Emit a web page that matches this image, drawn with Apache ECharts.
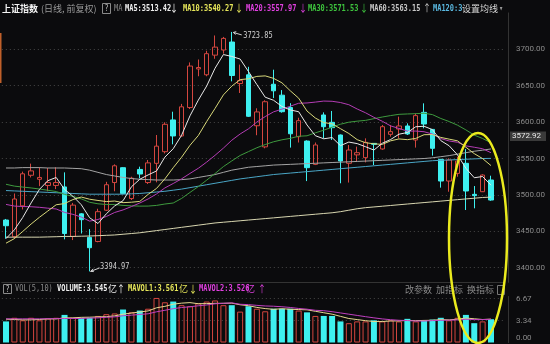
<!DOCTYPE html>
<html><head><meta charset="utf-8">
<script src="https://cdn.jsdelivr.net/npm/echarts@6/dist/echarts.min.js"></script>
<style>html,body{margin:0;padding:0;background:#0b0b0d}#c{width:550px;height:344px}</style>
</head><body><div id="c"></div>
<script>
// ---------- data ----------
const categories = Array.from({length: 59}, (_, i) => 'D' + (i + 1));
const opens  = [3465.5,3442.6,3485,3527,3521.5,3513,3513,3511,3443,3474,3441.7,3436,3479,3517,3537.4,3495,3535,3517,3543.4,3559.4,3603,3581,3620,3673,3665,3692,3699,3710,3653,3665,3595,3566,3652,3637,3620,3580,3574,3542,3609.8,3599.7,3582.3,3543.4,3555,3551.2,3570.8,3563.1,3583.2,3590.5,3594.7,3575.4,3613.4,3590,3548.9,3519.1,3529.6,3543.4,3500.8,3504.4,3520.5];
const closes = [3457.7,3494.4,3529,3533,3524,3517,3517,3447,3486,3466,3427.5,3477,3514,3540,3502,3523,3528.7,3544,3567,3597,3581,3621,3677,3675,3694,3703,3715,3664,3657,3608,3614,3628,3643,3614.3,3584,3602,3537.4,3568.6,3593.7,3592.4,3546.6,3561.7,3558,3572.2,3569.5,3593.7,3586.9,3594.7,3583.7,3608.9,3597.4,3564,3519.1,3548,3546.6,3505.4,3499,3527.3,3493];
const lows   = [3440,3440,3480,3524,3512,3505,3508,3439,3438,3447,3394.97,3435,3478,3505,3501,3493,3522.8,3515,3517.3,3557,3569.5,3580,3618,3663,3663,3687,3694,3656,3640,3607,3582,3564,3633,3613,3565,3572,3519,3541,3577.7,3575.4,3516,3517,3545.6,3544.7,3541,3562,3580,3577.7,3582.3,3565,3591.5,3554,3510,3504.4,3525,3479.3,3481.6,3504,3492];
const highs  = [3467,3502,3532,3543,3538,3537,3538,3531,3489,3475,3453,3481,3518,3542,3538,3525,3538.8,3548,3582.3,3599.7,3614.3,3625,3682,3686,3698,3719,3717,3723.85,3679,3676,3619,3630,3672,3644,3626,3606,3575,3572,3613.4,3615.3,3583,3568.6,3566.3,3577.7,3571,3596,3596,3607.5,3598.3,3612,3625.8,3590,3549,3550.3,3552.5,3563,3512.2,3528.3,3526.4];

const ma5   = [3440,3452,3469,3489,3507.6,3519.5,3524,3507.6,3498.2,3486.6,3468.7,3460.7,3474.1,3484.9,3492.1,3511.2,3521.5,3527.5,3532.9,3551.9,3563.5,3582,3608.6,3630.2,3649.6,3674,3692.8,3690.2,3686.6,3669.4,3651.6,3634.2,3630,3621.5,3616.7,3614.3,3596.1,3581.3,3577.1,3578.8,3567.7,3572.6,3570.5,3566.2,3561.6,3571,3576.1,3583.4,3585.7,3593.6,3594.3,3589.7,3574.6,3567.5,3555,3536.6,3523.6,3525.3,3513.4];
const ma10  = [3433.7,3440,3449.8,3460,3469.3,3477.9,3486.5,3488.1,3493.6,3497.1,3494.1,3492.4,3490.9,3491.6,3489.4,3490,3491.1,3500.8,3508.9,3522,3537.4,3551.8,3568.1,3581.6,3600.8,3618.8,3637.4,3649.4,3658.4,3659.5,3662.8,3663.5,3660.1,3654,3643,3632.9,3615.2,3605.6,3599.3,3597.7,3591,3584.4,3575.9,3571.7,3570.2,3569.4,3574.3,3576.9,3575.9,3577.6,3582.7,3582.9,3579,3576.6,3574.3,3565.5,3556.7,3549.9,3540.3];
const ma20  = [3487,3484.7,3484.1,3483.8,3483,3481.8,3480.7,3476,3473.3,3469.6,3464,3466.3,3470.4,3475.9,3479.4,3484,3488.9,3494.5,3501.3,3509.6,3515.7,3522.1,3529.5,3536.6,3545.1,3554.4,3564.3,3575.1,3583.7,3590.8,3600.1,3607.6,3614.1,3617.8,3621.9,3625.9,3626.3,3627.5,3628.9,3628.6,3626.9,3623.9,3618,3612.8,3606.6,3601.2,3594.8,3591.3,3587.6,3587.7,3586.8,3583.6,3577.4,3574.1,3572.3,3567.4,3565.5,3563.4,3558];
const ma30  = [3514.6,3512.1,3510.8,3509.6,3508.1,3506.4,3504.7,3500.7,3498,3494.6,3489.9,3487.8,3486.9,3486.9,3485.6,3485,3484.6,3484.7,3485.6,3487.5,3488.9,3495.2,3503.4,3511.5,3520.3,3529.4,3538.9,3546.7,3554.2,3559.5,3564.8,3569.2,3573,3575.7,3577.7,3580.6,3581.2,3585.3,3588.9,3593.1,3597.1,3599.9,3601.3,3602.4,3604.7,3607,3609,3610.7,3611.2,3611.6,3612.2,3610.3,3605,3600.8,3595.8,3589.3,3582.1,3577.5,3571.5];
const ma60  = [3537,3537,3537.5,3537.5,3537.5,3537,3537,3537,3536.5,3536,3534,3531,3528,3526,3524,3522.5,3521.5,3521,3520.5,3520.5,3520.5,3521,3522,3524,3526,3528,3531,3534,3536,3538,3539,3540,3541,3541.5,3542,3542.5,3543,3543.5,3544,3544.5,3545,3545.5,3546,3546.5,3547,3547.5,3548,3548.5,3549,3549.5,3550,3551,3552.5,3554,3556,3558,3560,3561.5,3563.15];
const ma120 = [3506,3505.5,3505,3504.5,3504,3503.5,3503,3502.5,3502,3501.5,3501,3501,3501,3501,3501,3501.5,3502,3503,3504,3505,3506.5,3508,3510,3512,3514,3516,3518,3520,3522,3523.5,3525,3526.5,3528,3529,3530,3531,3532,3533,3534,3535,3536,3537,3538,3539,3540,3541,3542,3543,3544,3545,3546,3547,3547.5,3548,3548.5,3549,3549.5,3550,3550.2];
const ma250 = [3442,3442,3442,3442,3442,3442.3,3442.6,3443,3443,3443.3,3443.6,3444,3444.5,3445,3446,3447,3448,3449.5,3451,3452.5,3454,3455.5,3457,3458.5,3460,3461.5,3462.5,3463.5,3464.5,3465.5,3466.5,3467.5,3468.5,3469.5,3470.5,3471.5,3472.5,3473.5,3474.5,3475.5,3477,3479,3481,3482.5,3483.5,3484.5,3485.5,3486.5,3487.5,3488.5,3489.5,3490.5,3491.5,3492.5,3493.5,3494.5,3495.5,3496.5,3497];

const vols    = [3.21,3.76,3.38,3.76,3.38,3.65,3.76,4.2,3.76,3.76,3.76,4.04,4.31,4.42,5.02,4.59,4.86,5.14,6.78,6.12,6.23,5.68,5.52,5.96,6.23,6.4,5.68,5.68,4.7,5.52,5.14,4.75,5.14,5.14,5.14,4.86,4.59,4.04,4.04,4.04,3.21,2.94,3.21,3.21,3.38,3.21,3.38,3.21,3.6,3.21,3.38,3.49,3.76,3.38,3.76,4.2,2.94,3.21,3.545];
const mavol1  = [3.55,3.5,3.45,3.45,3.50,3.59,3.59,3.75,3.75,3.83,3.85,3.90,3.93,4.06,4.31,4.48,4.64,4.81,5.28,5.50,5.83,5.99,6.07,5.90,5.92,5.96,5.96,5.99,5.74,5.60,5.34,5.16,5.05,5.14,5.06,5.01,4.97,4.75,4.53,4.31,3.98,3.65,3.49,3.32,3.19,3.19,3.28,3.28,3.36,3.32,3.36,3.38,3.49,3.44,3.55,3.72,3.61,3.50,3.56];
const mavol2  = [3.6,3.6,3.6,3.6,3.6,3.62,3.63,3.65,3.65,3.66,3.72,3.75,3.84,3.90,4.07,4.16,4.27,4.37,4.67,4.90,5.15,5.32,5.44,5.59,5.71,5.89,5.97,6.03,5.82,5.76,5.65,5.56,5.52,5.44,5.33,5.18,5.07,4.90,4.84,4.69,4.50,4.31,4.12,3.93,3.75,3.59,3.47,3.38,3.34,3.26,3.27,3.33,3.38,3.40,3.44,3.54,3.49,3.49,3.53];

const priceTicks = [3400,3450,3500,3550,3600,3650,3700];
const volTickValues = [0, 3.335, 6.67];
const volTickLabels = ['0.00','3.34','6.67'];
const highLabel = {index: 27, value: 3723.85, text: '3723.85'};
const lowLabel  = {index: 10, value: 3394.97, text: '3394.97'};

// ---------- chart ----------
const UP = '#d4463f', DOWN = '#3ef0f0', BG = '#0b0b0d';
const chart = echarts.init(document.getElementById('c'), null, {renderer: 'canvas'});
const xCats = categories.concat(['']);
const candleData = opens.map((o, i) => [o, closes[i], lows[i], highs[i]]);
const volData = vols.map((v, i) => ({
  value: v,
  itemStyle: closes[i] >= opens[i]
    ? {color: 'rgba(0,0,0,0)', borderColor: UP, borderWidth: 1}
    : {color: DOWN, borderColor: DOWN, borderWidth: 0}
}));
function line(name, data, color, gi) {
  return {name, type: 'line', data, xAxisIndex: gi, yAxisIndex: gi, symbol: 'none', showSymbol: false,
          lineStyle: {color, width: 1}, silent: true, z: 3, animation: false};
}
const gridLeft = 1.82, gridWidth = 501.7;
const mono = '9px "DejaVu Sans Mono"';
const cjk = '9px "Noto Sans CJK SC"';

const option = {
  backgroundColor: BG,
  animation: false,
  grid: [
    {left: gridLeft, width: gridWidth, top: 12.9, height: 269.4},
    {left: gridLeft, width: gridWidth, top: 296.5, height: 46}
  ],
  xAxis: [
    {type: 'category', data: xCats, gridIndex: 0, boundaryGap: true,
     axisLine: {show: true, lineStyle: {color: '#333'}}, axisTick: {show: false}, axisLabel: {show: false}, splitLine: {show: false}},
    {type: 'category', data: xCats, gridIndex: 1, boundaryGap: true,
     axisLine: {show: false}, axisTick: {show: false}, axisLabel: {show: false}, splitLine: {show: false}}
  ],
  yAxis: [
    {type: 'value', gridIndex: 0, position: 'right', offset: 4.5, min: 3380, max: 3750, splitNumber: 7,
     axisLine: {show: true, lineStyle: {color: '#333'}}, axisTick: {show: false},
     axisLabel: {color: '#8a8a8a', fontSize: 8, fontFamily: 'Roboto', margin: 8,
                 formatter: v => priceTicks.includes(v) ? v.toFixed(2) : ''},
     splitLine: {show: true, showMinLine: false, showMaxLine: false, lineStyle: {color: '#474747', type: [1, 3]}}},
    {type: 'value', gridIndex: 1, position: 'right', offset: 4.5, min: 0, max: 7, interval: 3.335,
     axisLine: {show: true, lineStyle: {color: '#333'}}, axisTick: {show: false},
     axisLabel: {color: '#8a8a8a', fontSize: 8, fontFamily: 'Roboto', margin: 8,
                 formatter: v => { const k = volTickValues.findIndex(t => Math.abs(t - v) < 1e-6); return k < 0 ? '' : (k === 0 ? '{z|' + volTickLabels[k] + '}' : volTickLabels[k]); },
                 rich: {z: {color: '#8a8a8a', fontSize: 8, fontFamily: 'Roboto', padding: [0, 0, 10, 0]}}},
     splitLine: {show: true, showMinLine: false, showMaxLine: false, lineStyle: {color: '#474747', type: [1, 3]}}}
  ],
  series: [
    {name: 'K', type: 'candlestick', data: candleData, xAxisIndex: 0, yAxisIndex: 0, barWidth: 5, z: 2,
     itemStyle: {color: 'rgba(0,0,0,0)', color0: DOWN, borderColor: UP, borderColor0: DOWN, borderWidth: 1}},
    line('MA250', ma250, '#d8d6b0', 0),
    line('MA120', ma120, '#4aa6c6', 0),
    line('MA60', ma60, '#a4a4a4', 0),
    line('MA30', ma30, '#3e9a3e', 0),
    line('MA20', ma20, '#b43cb4', 0),
    line('MA10', ma10, '#d8d87a', 0),
    line('MA5', ma5, '#e8e8e8', 0),
    {name: 'VOL', type: 'bar', data: volData, xAxisIndex: 1, yAxisIndex: 1, barWidth: 6, z: 2},
    line('MAVOL1', mavol1, '#e6d890', 1),
    line('MAVOL2', mavol2, '#c040c0', 1)
  ]
};
chart.setOption(option);

// ---------- header / annotations ----------
function t(x, y, text, fill, font, sx) {
  return {type: 'text', x, y, scaleX: sx || 1, z: 100, silent: true,
          style: {text, fill, font: font || mono, verticalAlign: 'middle', align: 'left'}};
}
const S = 0.775;
const A = '10px "Noto Sans CJK SC"';
const g = [];
// header
g.push(t(2, 8.5, '上证指数', '#f4f4f4', 'bold ' + cjk));
g.push(t(41, 8.5, '(日线, 前复权)', '#9a9a9a', cjk));
g.push({type: 'rect', shape: {x: 102.5, y: 3.5, width: 8, height: 10}, style: {fill: 'none', stroke: '#8a8a8a', lineWidth: 1}, z: 100});
g.push(t(104.5, 8.8, '?', '#bbbbbb', mono, S));
g.push(t(114, 8.5, 'MA', '#8a8a8a', mono, S));
g.push(t(125, 8.5, 'MA5:3513.42', '#f0f0f0', 'bold ' + mono, S));
g.push(t(170, 8.5, '↓', '#f0f0f0', A, 0.8));
g.push(t(183, 8.5, 'MA10:3540.27', '#e6e65a', 'bold ' + mono, S));
g.push(t(235, 8.5, '↓', '#e6e65a', A, 0.8));
g.push(t(246, 8.5, 'MA20:3557.97', '#e040e0', 'bold ' + mono, S));
g.push(t(299, 8.5, '↓', '#e040e0', A, 0.8));
g.push(t(308, 8.5, 'MA30:3571.53', '#3ec43e', 'bold ' + mono, S));
g.push(t(360, 8.5, '↓', '#3ec43e', A, 0.8));
g.push(t(370, 8.5, 'MA60:3563.15', '#c8c8c8', 'bold ' + mono, S));
g.push(t(423, 8.5, '↑', '#c8c8c8', A, 0.8));
g.push(t(433, 8.5, 'MA120:3', '#5ab8e0', 'bold ' + mono, S));
g.push(t(462, 8.5, '设置均线', '#d8d8d8', cjk));
g.push(t(499, 8.5, '▾', '#9a9a9a', mono, S));
// volume header
g.push({type: 'rect', shape: {x: 3.5, y: 284.5, width: 8, height: 9}, style: {fill: 'none', stroke: '#8a8a8a', lineWidth: 1}, z: 100});
g.push(t(5.5, 289.2, '?', '#bbbbbb', mono, S));
g.push(t(15, 289, 'VOL(5,10)', '#8a8a8a', mono, S));
g.push(t(57, 289, 'VOLUME:3.545', '#f0f0f0', 'bold ' + mono, S));
g.push(t(108, 289, '亿', '#f0f0f0', cjk));
g.push(t(117, 289, '↑', '#f0f0f0', A, 0.8));
g.push(t(128, 289, 'MAVOL1:3.561', '#e6e65a', 'bold ' + mono, S));
g.push(t(179, 289, '亿', '#e6e65a', cjk));
g.push(t(189, 289, '↓', '#e6e65a', A, 0.8));
g.push(t(199, 289, 'MAVOL2:3.526', '#e040e0', 'bold ' + mono, S));
g.push(t(246, 289, '亿', '#e040e0', cjk));
g.push(t(258, 289, '↑', '#e040e0', A, 0.8));
g.push(t(405, 290, '改参数', '#8a8a8a', cjk));
g.push(t(436, 290, '加指标', '#8a8a8a', cjk));
g.push(t(467, 290, '换指标', '#8a8a8a', cjk));
g.push({type: 'rect', shape: {x: 497.5, y: 285.5, width: 7, height: 9}, style: {fill: 'none', stroke: '#777', lineWidth: 1}, z: 100});
// left orange marker
g.push({type: 'rect', shape: {x: 0, y: 33, width: 1.5, height: 50}, style: {fill: '#c0602a'}, z: 100});
// price box
g.push({type: 'rect', shape: {x: 510, y: 131.5, width: 36, height: 9.5}, style: {fill: '#3a3a3a'}, z: 100});
g.push(t(512, 136.3, '3572.92', '#e8e8e8', '8px Roboto'));
// high/low annotations
const ph = chart.convertToPixel({gridIndex: 0}, [highLabel.index, highLabel.value]);
const pl = chart.convertToPixel({gridIndex: 0}, [lowLabel.index, lowLabel.value]);
g.push({type: 'polyline', shape: {points: [[ph[0] + 1.5, ph[1] + 0.5], [ph[0] + 10, ph[1] + 3]]}, style: {stroke: '#d0d0d0', lineWidth: 1, fill: 'none'}, z: 100});
g.push({type: 'polyline', shape: {points: [[ph[0] + 4.5, ph[1] - 0.3], [ph[0] + 1.5, ph[1] + 0.5], [ph[0] + 3.8, ph[1] + 2.6]]}, style: {stroke: '#d0d0d0', lineWidth: 1, fill: 'none'}, z: 100});
g.push(t(ph[0] + 11.5, ph[1] + 3.3, highLabel.text, '#d0d0d0', mono, S));
g.push({type: 'polyline', shape: {points: [[pl[0] + 1, pl[1]], [pl[0] + 10, pl[1] - 3.5]]}, style: {stroke: '#d0d0d0', lineWidth: 1, fill: 'none'}, z: 100});
g.push({type: 'polyline', shape: {points: [[pl[0] + 3.5, pl[1] - 2.6], [pl[0] + 1, pl[1]], [pl[0] + 4.2, pl[1] + 0.2]]}, style: {stroke: '#d0d0d0', lineWidth: 1, fill: 'none'}, z: 100});
g.push(t(pl[0] + 10.5, pl[1] - 4.7, lowLabel.text, '#d0d0d0', mono, S));
// yellow ellipse highlight
g.push({type: 'ellipse', shape: {cx: 478, cy: 238, rx: 29, ry: 105}, style: {fill: 'none', stroke: '#eaea1e', lineWidth: 2.5}, z: 120});
chart.setOption({graphic: g});
</script>
</body></html>
